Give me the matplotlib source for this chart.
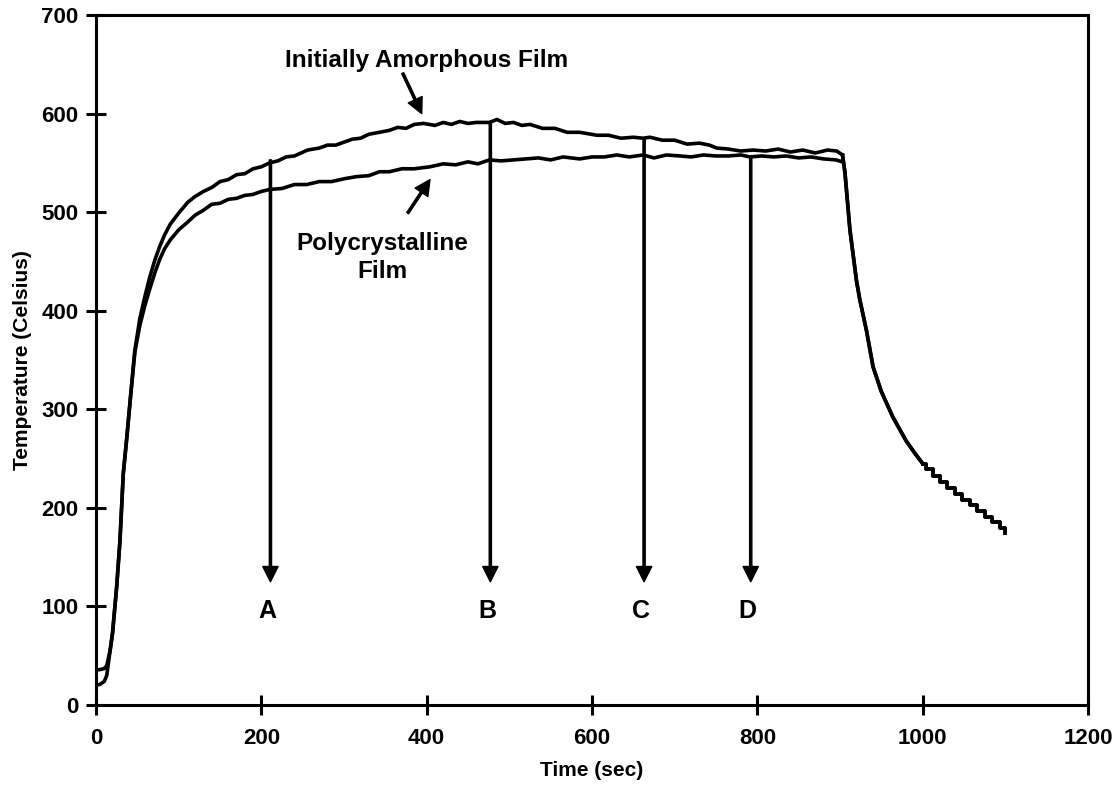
import numpy as np
import matplotlib
matplotlib.use('Agg')
import matplotlib.pyplot as plt

plt.rcParams['font.family'] = ['Liberation Sans', 'DejaVu Sans']
plt.rcParams['font.weight'] = 'bold'

# heating + hold, initially amorphous film
amor_t = [0, 5, 10, 13, 17, 20, 25, 29, 33, 37, 42, 47, 53, 59, 65, 71, 77, 83, 90, 100,
          111, 120, 130, 140, 150, 160, 170, 180, 190, 200, 210, 220, 230, 240, 256, 270, 280,
          290, 300, 310, 320, 330, 343, 355, 365, 375, 385, 396, 410, 420, 430, 440, 450, 460,
          476, 485, 495, 505, 515, 525, 540, 555, 570, 585, 606, 620, 635, 650, 662, 670, 685,
          700, 715, 730, 742, 751, 765, 780, 795, 810, 825, 840, 855, 870, 885, 896, 903]
amor_T = [35.5, 36, 37, 40, 55, 73, 120, 167, 235, 269, 315, 360, 392, 414, 434, 451, 465, 477, 488, 499,
          510, 516, 521, 525, 531, 533, 538, 539, 544, 546, 550, 552, 556, 557, 563, 565, 568,
          568, 571, 574, 575, 579, 581, 583, 586, 585, 589, 590, 588, 591, 589, 592, 590, 591,
          591, 594, 590, 591, 588, 589, 585, 585, 581, 581, 578, 578, 575, 576, 575, 576, 573,
          573, 569, 570, 568, 565, 564, 562, 563, 562, 564, 561, 563, 560, 563, 562, 558]

# heating + hold, polycrystalline film
poly_t = [0, 5, 10, 13, 17, 20, 25, 29, 33, 37, 42, 47, 53, 59, 65, 71, 77, 83, 90, 100,
          111, 120, 130, 140, 150, 160, 170, 180, 190, 200, 210, 225, 240, 255, 270, 285, 301,
          315, 330, 343, 355, 370, 385, 404, 420, 435, 450, 462, 476, 490, 505, 520, 535, 550,
          565, 585, 600, 615, 630, 645, 662, 675, 690, 706, 720, 735, 750, 765, 780, 791, 805,
          820, 835, 850, 865, 880, 895, 903]
poly_T = [20, 21, 24, 30, 55, 73, 120, 167, 235, 269, 315, 358, 385, 405, 422, 438, 452, 463, 472, 482,
          490, 497, 502, 508, 509, 513, 514, 517, 518, 521, 523, 524, 528, 528, 531, 531, 534,
          536, 537, 541, 541, 544, 544, 546, 549, 548, 551, 549, 553, 552, 553, 554, 555, 553,
          556, 554, 556, 556, 558, 556, 558, 555, 558, 557, 556, 558, 557, 557, 558, 556, 557,
          556, 557, 555, 556, 554, 553, 551]

# cooling after the lamp is switched off (both films)
cool_t = [903, 906, 912, 920, 924, 932, 940, 950, 964, 980, 990, 1000]
cool_T = [558, 540, 482, 430, 411, 380, 343, 318, 292, 268, 256, 245]
tail_t = [1000, 1004, 1012, 1021, 1030, 1039, 1048, 1057, 1066, 1075, 1084, 1093, 1100]
tail_T = [245, 239, 232, 226, 220, 214, 208, 203, 197, 191, 186, 180, 174]

# analysis points
pt_labels = ['A', 'B', 'C', 'D']
pt_time = [211, 477, 663, 792]
pt_start = [553, 592, 575, 557]
pt_end = 125

fig = plt.figure(figsize=(11.19, 7.85), dpi=100)
ax = fig.add_axes([0.0858, 0.1019, 0.8865, 0.8790])

lw = 2.6
for t, T in [(amor_t, amor_T), (poly_t, poly_T)]:
    ax.plot(t, T, color='black', lw=lw, solid_joinstyle='round')
    ax.plot(cool_t, cool_T, color='black', lw=lw)
    ax.plot(tail_t, tail_T, color='black', lw=lw, drawstyle='steps-post')

arrow = dict(facecolor='black', edgecolor='black', width=1.6, headwidth=11, headlength=11, shrink=0)
for lab, t, y0 in zip(pt_labels, pt_time, pt_start):
    ax.annotate('', xy=(t, pt_end), xytext=(t, y0), arrowprops=arrow)
    ax.text(t - 4, 95, lab, ha='center', va='center', fontsize=18, fontweight='bold')

ax.text(400, 654, 'Initially Amorphous Film', ha='center', va='center',
        fontsize=17.5, fontweight='bold')
ax.annotate('', xy=(394, 600), xytext=(371, 641), arrowprops=arrow)
ax.text(346, 454, 'Polycrystalline\nFilm', ha='center', va='center', fontsize=17.5,
        fontweight='bold', linespacing=1.25)
ax.annotate('', xy=(404, 533), xytext=(377, 499), arrowprops=arrow)

ax.set_xlim(0, 1200)
ax.set_ylim(0, 700)
ax.set_xticks(np.arange(0, 1201, 200))
ax.set_yticks(np.arange(0, 701, 100))
ax.tick_params(direction='inout', length=15, width=2.2, labelsize=16)
ax.tick_params(axis='x', pad=9)
ax.tick_params(axis='y', pad=5)
for s in ax.spines.values():
    s.set_linewidth(2.2)
for lbl in ax.get_xticklabels() + ax.get_yticklabels():
    lbl.set_fontweight('bold')

ax.set_xlabel('Time (sec)', fontsize=15, fontweight='bold', labelpad=9)
ax.set_ylabel('Temperature (Celsius)', fontsize=15, fontweight='bold', labelpad=7)

fig.savefig('out.png', dpi=100)
